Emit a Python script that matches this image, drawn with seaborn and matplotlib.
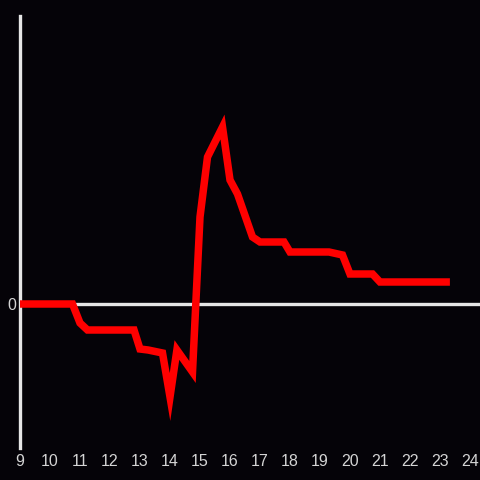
import matplotlib
matplotlib.use("Agg")
import matplotlib.pyplot as plt
import seaborn as sns
import pandas as pd

hours = [9.0, 10.75, 11.0, 11.25, 12.8, 13.0, 13.27, 13.75, 14.0, 14.23,
         14.75, 15.0, 15.25, 15.75, 16.0, 16.25, 16.75, 17.0, 17.8, 18.0,
         19.3, 19.75, 20.0, 20.75, 21.0, 23.33]
values = [0, 0, -19, -26, -26, -45, -46, -49, -93, -46,
          -68, 87, 147, 177, 124, 110, 67, 62, 62, 52,
          52, 49, 30, 30, 22, 22]
xticks = list(range(9, 25))

bg = "#050308"
axis_col = "#e6e6e6"
text_col = "#d4d4d4"

sns.set_theme(style="dark")
plt.rcParams["font.family"] = ["Liberation Sans", "DejaVu Sans"]

df = pd.DataFrame({"hour": hours, "value": values})

fig = plt.figure(figsize=(4.8, 4.8), dpi=100, facecolor=bg)
ax = fig.add_axes([20 / 480, 32 / 480, 460 / 480, 432 / 480])
ax.set_facecolor(bg)

sns.lineplot(data=df, x="hour", y="value", color="#ff0000", linewidth=5.4, ax=ax,
             solid_joinstyle="miter", solid_capstyle="butt", zorder=3)
ax.axhline(0, color=axis_col, linewidth=2.4, zorder=2)

ax.set_xlim(9, 9 + 460 / 30)
ax.set_ylim(-144, 288)
ax.set_xticks(xticks)
ax.set_xticklabels([str(t) for t in xticks])
ax.set_yticks([0])
ax.set_yticklabels(["0"])
ax.tick_params(axis="both", length=0, colors=text_col, labelsize=11.5)
ax.tick_params(axis="x", pad=4)
ax.tick_params(axis="y", pad=3)
ax.set_xlabel("")
ax.set_ylabel("")
ax.grid(False)

for side in ["top", "right", "bottom"]:
    ax.spines[side].set_visible(False)
ax.spines["left"].set_color(axis_col)
ax.spines["left"].set_linewidth(2.4)

fig.savefig("out.png", dpi=100, facecolor=bg)
